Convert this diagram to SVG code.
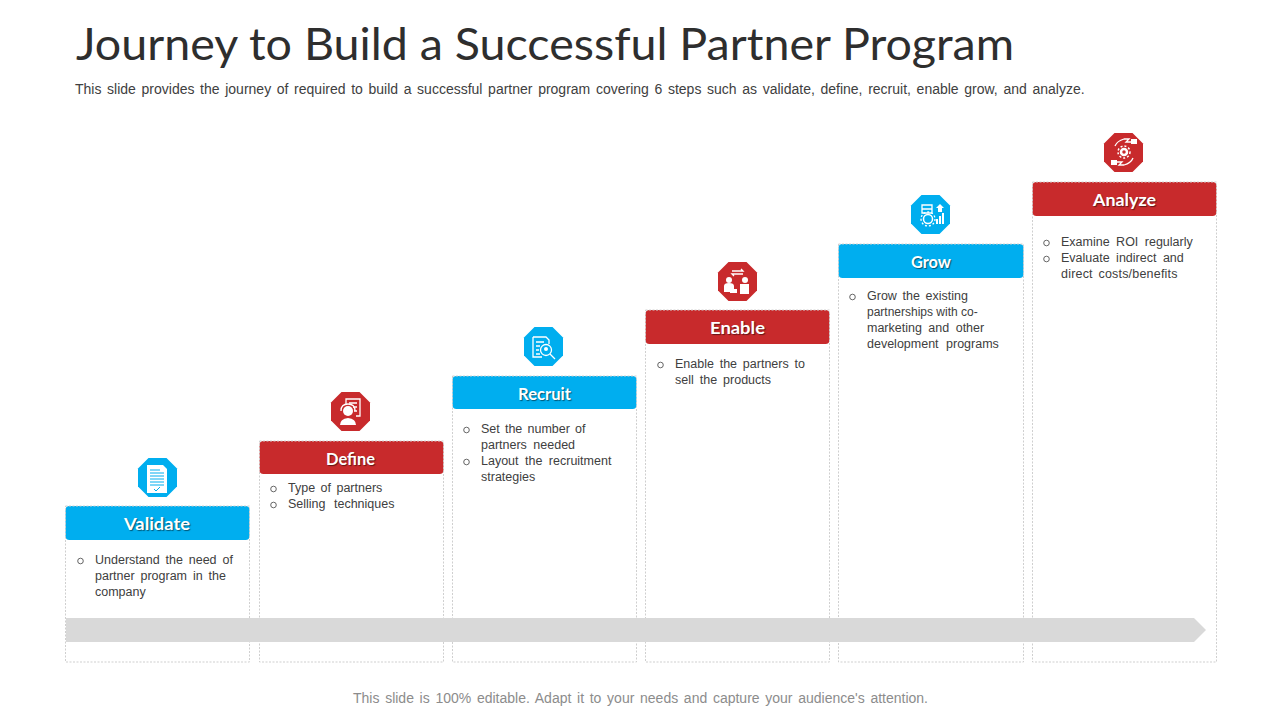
<svg xmlns="http://www.w3.org/2000/svg" width="1280" height="720" viewBox="0 0 1280 720">
<style>
.title{font:400 45px Lato,"Liberation Sans",sans-serif;fill:#2e2e2e}
.sub{font:14px "Liberation Sans",Arial,sans-serif;fill:#404040}
.foot{font:14px "Liberation Sans",Arial,sans-serif;fill:#8c8c8c}
.body{font:12.5px "Liberation Sans",Arial,sans-serif;fill:#404040}
.bul{fill:none;stroke:#404040;stroke-width:.8}
.box{fill:none;stroke:#cfcfcf;stroke-width:1;stroke-dasharray:2 1.5}
.blue{fill:#00aeef}.red{fill:#c82a2c}
.hd{font:700 17px Lato,"Liberation Sans",sans-serif;fill:#fff;text-anchor:middle;text-shadow:1px 1px 1px rgba(0,0,0,.5)}
.ic{fill:#fff}.icl{fill:none;stroke:#fff;stroke-width:1.3}
.icb{stroke:#00aeef;stroke-width:1;fill:none}
</style>
<defs>
<polygon id="oct" points="-9,-19.500 9,-19.500 19.500,-9 19.500,9 9,19.500 -9,19.500 -19.500,9 -19.500,-9"/>
</defs>
<text class="title" x="76" y="60" textLength="938" lengthAdjust="spacingAndGlyphs">Journey to Build a Successful Partner Program</text>
<text class="sub" x="75" y="94" word-spacing="1.760">This slide provides the journey of required to build a successful partner program covering 6 steps such as validate, define, recruit, enable grow, and analyze.</text>

<g id="node-validate">
<rect class="blue" x="65.500" y="506" width="184" height="34" rx="4"/>
<rect class="box" x="65.500" y="506" width="184" height="156"/>
<text class="hd" x="157" y="530" textLength="66" lengthAdjust="spacingAndGlyphs">Validate</text>
<use href="#oct" x="157.500" y="477.500" class="blue"/>
<path class="ic" d="M147 465h16l4 4v24h-20z"/>
<path class="icb" d="M150 470h10M150 473h14M150 476h14M150 479h14M150 482h14M150 485h14M154 489l2 2 4-4"/>
<circle class="bul" cx="80.500" cy="561" r="2.800"/>
<text class="body" x="95" y="564" word-spacing="2.400">Understand the need of</text>
<text class="body" x="95" y="580" word-spacing="2.400">partner program in the</text>
<text class="body" x="95" y="596">company</text>
</g>

<g id="node-define">
<rect class="red" x="259.500" y="441" width="184" height="33" rx="4"/>
<rect class="box" x="259.500" y="441" width="184" height="221"/>
<text class="hd" x="350.500" y="464.500" textLength="49" lengthAdjust="spacingAndGlyphs">Define</text>
<use href="#oct" x="350.500" y="411.500" class="red"/>
<path class="icl" d="M346 405v-6h14v17h-4M349 403h8M353 407h4M354 411h3"/>
<circle class="ic" cx="348" cy="411" r="5"/>
<path class="icl" d="M341 411q0-7 7-7q7 0 7 7"/>
<path class="ic" d="M340 425q0-6 8-7q8 1 8 7z"/>
<circle class="bul" cx="273.500" cy="489" r="2.800"/>
<text class="body" x="288" y="492" word-spacing="2">Type of partners</text>
<circle class="bul" cx="273.500" cy="505" r="2.800"/>
<text class="body" x="288" y="508" word-spacing="5">Selling techniques</text>
</g>

<g id="node-recruit">
<rect class="blue" x="452.500" y="376" width="184" height="33" rx="4"/>
<rect class="box" x="452.500" y="376" width="184" height="286"/>
<text class="hd" x="544.500" y="399.500" textLength="53" lengthAdjust="spacingAndGlyphs">Recruit</text>
<use href="#oct" x="543.500" y="346.500" class="blue"/>
<path class="icl" d="M533 337h13l3 3v4M533 337v20h9M536 342h8M536 346h4M536 350h3M536 354h4"/>
<circle class="icl" cx="546" cy="350" r="5.500"/>
<circle class="ic" cx="546" cy="349" r="2"/>
<path class="icl" d="M550 354l5 5"/>
<circle class="bul" cx="466.500" cy="430" r="2.800"/>
<text class="body" x="481" y="433" word-spacing="1.700">Set the number of</text>
<text class="body" x="481" y="449" word-spacing="3">partners needed</text>
<circle class="bul" cx="466.500" cy="462" r="2.800"/>
<text class="body" x="481" y="465" word-spacing="3">Layout the recruitment</text>
<text class="body" x="481" y="481">strategies</text>
</g>

<g id="node-enable">
<rect class="red" x="645.500" y="310" width="184" height="34" rx="4"/>
<rect class="box" x="645.500" y="310" width="184" height="352"/>
<text class="hd" x="737.500" y="333.500" textLength="55" lengthAdjust="spacingAndGlyphs">Enable</text>
<use href="#oct" x="737.500" y="281.500" class="red"/>
<path class="icl" d="M732 271h11l-2-2M743 274h-11l2 2"/>
<circle class="ic" cx="729" cy="280" r="3"/>
<circle class="ic" cx="745" cy="280" r="3"/>
<path class="ic" d="M724 292v-6q0-3 5-3t5 3v3h3v4h-7v-1zM740 284h9v10h-9z"/>
<circle class="bul" cx="660.500" cy="365" r="2.800"/>
<text class="body" x="675" y="368" word-spacing="2.300">Enable the partners to</text>
<text class="body" x="675" y="384" word-spacing="2.500">sell the products</text>
</g>

<g id="node-grow">
<rect class="blue" x="838.500" y="244" width="185" height="34" rx="4"/>
<rect class="box" x="838.500" y="244" width="185" height="418"/>
<text class="hd" x="931" y="267.500" textLength="40" lengthAdjust="spacingAndGlyphs">Grow</text>
<use href="#oct" x="930.500" y="214.500" class="blue"/>
<path class="icl" d="M922 205h10v8h-10zM922 209h10"/>
<path class="ic" d="M936 208l4-4 4 4h-2v4h-4v-4z"/>
<path class="ic" d="M936 224h2v-5h-2zM939 224h2v-8h-2zM942 224h2v-11h-2z"/>
<circle cx="928" cy="219" r="4.500" fill="none" stroke="#fff" stroke-width="1.500"/>
<circle cx="928" cy="219" r="7" fill="none" stroke="#fff" stroke-width="1.300" stroke-dasharray="2 2"/>
<circle class="bul" cx="852.500" cy="297" r="2.800"/>
<text class="body" x="867" y="300" word-spacing="2.200">Grow the existing</text>
<text class="body" x="867" y="316" style="font-size:12px">partnerships with co-</text>
<text class="body" x="867" y="332" word-spacing="3">marketing and other</text>
<text class="body" x="867" y="348" word-spacing="4">development programs</text>
</g>

<g id="node-analyze">
<rect class="red" x="1032.500" y="182" width="184" height="34" rx="4"/>
<rect class="box" x="1032.500" y="182" width="184" height="480"/>
<text class="hd" x="1124.500" y="205.500" textLength="63" lengthAdjust="spacingAndGlyphs">Analyze</text>
<use href="#oct" x="1123.500" y="152.500" class="red"/>
<circle cx="1124" cy="152" r="3" fill="none" stroke="#fff" stroke-width="2.500"/>
<circle cx="1124" cy="152" r="6" fill="none" stroke="#fff" stroke-width="1.500" stroke-dasharray="2 2"/>
<path class="icl" d="M1115 146q2-5 9-7h5l-3 3h5l4-1M1133 158q-2 5-9 7h-5l3-3h-5l-4 1"/>
<path class="ic" d="M1131 139h6v5h-6zM1111 160h6v5h-6z"/>
<circle class="bul" cx="1046.500" cy="243" r="2.800"/>
<text class="body" x="1061" y="246" word-spacing="3">Examine ROI regularly</text>
<circle class="bul" cx="1046.500" cy="259" r="2.800"/>
<text class="body" x="1061" y="262" word-spacing="3">Evaluate indirect and</text>
<text class="body" x="1061" y="278" word-spacing="2" letter-spacing=".2">direct costs/benefits</text>
</g>

<g id="connectors">
<polygon points="66,618 1194,618 1206,630 1194,642 66,642" fill="#d9d9d9"/>
</g>

<text class="foot" x="353" y="703" word-spacing="1.800">This slide is 100% editable. Adapt it to your needs and capture your audience's attention.</text>
</svg>
